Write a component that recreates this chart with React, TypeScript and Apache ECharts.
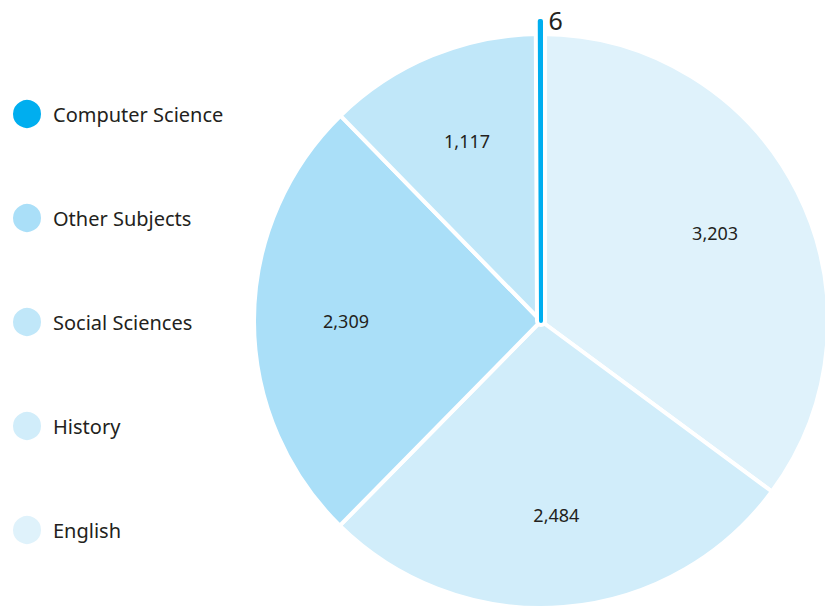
import React, { useEffect, useRef } from "react";
import * as echarts from "echarts";

const categories = ["English", "History", "Other Subjects", "Social Sciences", "Computer Science"];
const values = [3203, 2484, 2309, 1117, 6];
const colors = ["#dff2fb", "#d1edfa", "#aadff8", "#c0e7f9", "#00aeef"];
const legendOrder = ["Computer Science", "Other Subjects", "Social Sciences", "History", "English"];
const highlighted = "Computer Science";

const FONT = "'Noto Sans', sans-serif";

export default function App() {
  const ref = useRef<HTMLDivElement>(null);
  useEffect(() => {
    document.body.style.margin = "0";
    const chart = echarts.init(ref.current!, null, { renderer: "svg" });
    const center = [541, 321];
    const mainData = categories.map((name, i) => ({
      name,
      value: values[i],
      itemStyle:
        name === highlighted
          ? { color: colors[i], borderColor: "#ffffff", borderWidth: 12 }
          : { color: colors[i], borderColor: "#ffffff", borderWidth: 4 },
    }));
    const sliverData = categories.map((name, i) => ({
      name,
      value: values[i],
      itemStyle:
        name === highlighted
          ? { color: colors[i], borderColor: colors[i], borderWidth: 4 }
          : { color: "rgba(0,0,0,0)", borderWidth: 0 },
      label:
        name === highlighted
          ? {
              show: true,
              position: "inside",
              formatter: (p: any) => p.value.toLocaleString("en-US"),
              fontSize: 25,
              color: "#231f20",
              fontFamily: FONT,
              offset: [15, -148],
            }
          : { show: false },
    }));
    const labelData = categories.map((name, i) => ({
      name,
      value: values[i],
      itemStyle: { color: "rgba(0,0,0,0)", borderWidth: 0 },
      label: { show: name !== highlighted },
    }));
    chart.setOption({
      animation: false,
      legend: {
        orient: "vertical",
        left: 6,
        top: 93,
        icon: "circle",
        itemWidth: 30,
        itemHeight: 30,
        itemGap: 72,
        data: legendOrder,
        selectedMode: false,
        textStyle: { fontSize: 20, color: "#231f20", fontFamily: FONT, padding: [0, 0, 0, 6] },
      },
      series: [
        {
          type: "pie",
          center,
          radius: [0, 287],
          startAngle: 90,
          clockwise: true,
          silent: true,
          label: { show: false },
          labelLine: { show: false },
          data: mainData,
          z: 1,
        },
        {
          type: "pie",
          center,
          radius: [0, 300],
          startAngle: 90,
          clockwise: true,
          silent: true,
          labelLine: { show: false },
          data: sliverData,
          z: 2,
        },
        {
          type: "pie",
          center,
          radius: [0, 384],
          startAngle: 90,
          clockwise: true,
          silent: true,
          label: {
            position: "inside",
            formatter: (p: any) => p.value.toLocaleString("en-US"),
            fontSize: 18,
            color: "#231f20",
            fontFamily: FONT,
          },
          labelLine: { show: false },
          data: labelData,
          z: 3,
        },
      ],
    });
    return () => chart.dispose();
  }, []);
  return <div ref={ref} style={{ width: 825, height: 608 }} />;
}
